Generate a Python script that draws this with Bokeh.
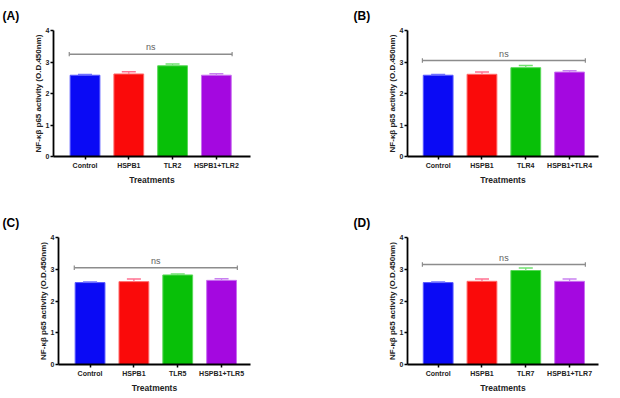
from bokeh.plotting import figure
from bokeh.layouts import column, row
from bokeh.models import Range1d, FixedTicker, Label, ColumnDataSource
from bokeh.embed import file_html
from bokeh.resources import INLINE

# ---- data ----
categories_A = ["Control", "HSPB1", "TLR2", "HSPB1+TLR2"]
categories_B = ["Control", "HSPB1", "TLR4", "HSPB1+TLR4"]
categories_C = ["Control", "HSPB1", "TLR5", "HSPB1+TLR5"]
categories_D = ["Control", "HSPB1", "TLR7", "HSPB1+TLR7"]

values_A = [2.58, 2.62, 2.88, 2.58]
errors_A = [0.02, 0.07, 0.06, 0.05]
values_B = [2.58, 2.61, 2.82, 2.68]
errors_B = [0.02, 0.07, 0.07, 0.04]
values_C = [2.58, 2.61, 2.82, 2.65]
errors_C = [0.02, 0.08, 0.03, 0.05]
values_D = [2.58, 2.62, 2.96, 2.62]
errors_D = [0.02, 0.07, 0.08, 0.07]

ns_level = {"A": 3.25, "B": 3.05, "C": 3.05, "D": 3.15}

y_ticks = [0, 1, 2, 3, 4]
bar_colors = ["#0a0af5", "#fa0a0a", "#08c008", "#a408e0"]
edge_colors = ["#5a5aff", "#ff6a6a", "#5ad85a", "#c870f0"]
err_colors = ["#7070ff", "#ff7090", "#70e070", "#c880f0"]

FONT = "Liberation Sans"


def make_panel(tag, cats, vals, errs, width, height, borders, xr, title_offset):
    left, right, top, bottom = borders
    p = figure(width=width, height=height, output_backend="svg", toolbar_location=None,
               x_range=Range1d(*xr), y_range=Range1d(0, 4),
               min_border_left=left, min_border_right=right,
               min_border_top=top, min_border_bottom=bottom)
    p.outline_line_color = None
    p.xgrid.visible = False
    p.ygrid.visible = False
    p.background_fill_color = "white"
    p.border_fill_color = "white"

    xs = list(range(len(cats)))
    src = ColumnDataSource(dict(x=xs, top=vals, fill=bar_colors, edge=edge_colors))
    p.vbar(x="x", top="top", bottom=0, width=0.68, source=src,
           fill_color="fill", line_color="edge", line_width=1)

    ups = [v + e for v, e in zip(vals, errs)]
    p.segment(x0=xs, y0=vals, x1=xs, y1=ups, line_color=err_colors, line_width=1.2)
    p.segment(x0=[x - 0.16 for x in xs], y0=ups, x1=[x + 0.16 for x in xs], y1=ups,
              line_color=err_colors, line_width=1.5)

    # ns bracket
    lvl = ns_level[tag]
    x0, x1 = xs[0] - 0.36, xs[-1] + 0.36
    p.segment(x0=[x0], y0=[lvl], x1=[x1], y1=[lvl], line_color="#8c8c8c", line_width=1.5)
    p.segment(x0=[x0, x1], y0=[lvl - 0.07, lvl - 0.07], x1=[x0, x1], y1=[lvl + 0.07, lvl + 0.07],
              line_color="#8c8c8c", line_width=1.2)
    p.add_layout(Label(x=(xs[0] + xs[-1]) / 2, y=lvl + 0.06, text="ns", text_align="center",
                       text_baseline="bottom", text_font=FONT, text_font_size="9px",
                       text_color="#606060"))

    # axes
    p.xaxis.ticker = FixedTicker(ticks=xs)
    p.xaxis.major_label_overrides = {x: c for x, c in zip(xs, cats)}
    p.yaxis.ticker = FixedTicker(ticks=y_ticks)
    for ax in (p.xaxis[0], p.yaxis[0]):
        ax.axis_line_color = "black"
        ax.axis_line_width = 1.8
        ax.major_tick_line_color = "black"
        ax.major_tick_line_width = 1.5
        ax.major_tick_out = 3
        ax.major_tick_in = 0
        ax.minor_tick_line_color = None
        ax.major_label_text_font = FONT
        ax.major_label_text_font_style = "bold"
        ax.major_label_text_font_size = "7px"
        ax.major_label_text_color = "#222222"
        ax.axis_label_text_font = FONT
        ax.axis_label_text_font_style = "bold"
        ax.axis_label_text_color = "#222222"
    p.xaxis.major_label_standoff = 2
    p.yaxis.major_label_standoff = 1
    p.xaxis.axis_label = "Treatments"
    p.xaxis.axis_label_text_font_size = "8.5px"
    p.xaxis.axis_label_standoff = 3
    p.yaxis.axis_label = "NF-κβ p65 activity (O.D.450nm)"
    p.yaxis.axis_label_text_font_size = "8px"
    p.yaxis.axis_label_standoff = 0

    # panel tag
    p.title.text = "(" + tag + ")"
    p.title.align = "left"
    p.title.vertical_align = "top"
    p.title.offset = title_offset
    p.title.standoff = 12
    p.title.text_font = FONT
    p.title.text_font_style = "bold"
    p.title.text_font_size = "12px"
    p.title.text_color = "black"
    return p


pA = make_panel("A", categories_A, values_A, errors_A, 310, 190, (53, 60, 30, 34), (-0.72, 3.78), -51)
pB = make_panel("B", categories_B, values_B, errors_B, 310, 190, (97, 22, 30, 34), (-0.7, 3.66), -54)
pC = make_panel("C", categories_C, values_C, errors_C, 310, 208, (58, 60, 47, 34), (-0.72, 3.66), -56)
pD = make_panel("D", categories_D, values_D, errors_D, 310, 208, (97, 22, 47, 34), (-0.7, 3.66), -54)

layout = column(row(pA, pB), row(pC, pD))
open("out.html", "w").write(file_html(layout, INLINE))
